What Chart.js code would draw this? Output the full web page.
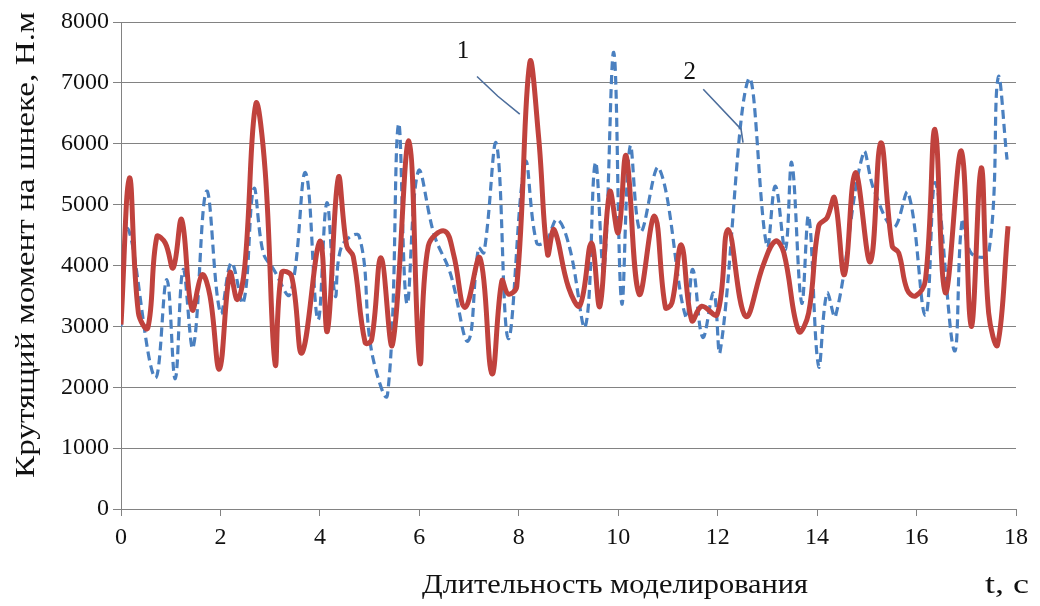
<!DOCTYPE html>
<html>
<head>
<meta charset="utf-8">
<script src="https://cdn.jsdelivr.net/npm/chart.js@4.4.1/dist/chart.umd.min.js"></script>
<style>
  html, body { margin: 0; padding: 0; background: #ffffff; }
  canvas { display: block; }
</style>
</head>
<body>
<canvas id="chart" width="1040" height="606"></canvas>
<script>
// Series 1 (solid red): time, s and torque, N·m
const timeSeries1 = [0,0.17,0.35,0.54,0.72,0.89,1.05,1.22,1.43,1.63,1.79,1.98,2.19,2.34,2.49,2.71,2.9,3.1,3.23,3.43,3.64,4.0,4.15,4.37,4.54,4.67,4.91,5.04,5.23,5.46,5.79,6.01,6.18,6.51,6.69,6.92,7.22,7.46,7.66,7.79,7.96,8.22,8.4,8.58,8.71,9.0,9.23,9.46,9.63,9.83,10.0,10.16,10.42,10.73,10.95,11.08,11.27,11.48,11.68,11.99,12.21,12.56,12.92,13.16,13.33,13.63,13.83,14.03,14.2,14.35,14.55,14.77,15.07,15.28,15.51,15.64,15.81,15.98,16.18,16.37,16.58,16.9,17.1,17.3,17.45,17.63,17.84];
const torqueSeries1 = [3030,5440,3220,2975,4470,4370,3960,4755,3275,3850,3500,2300,3880,3440,3990,6650,5550,2380,3880,3825,2565,4400,2920,5440,4320,4150,2730,2780,4125,2700,6045,2410,4320,4565,4180,3310,4125,2220,3750,3530,3660,7330,6100,4180,4590,3640,3340,4370,3330,5210,4540,5800,3530,4810,3310,3385,4335,3095,3330,3195,4590,3165,4015,4400,4210,2920,3220,4645,4785,5110,3850,5525,4060,6015,4320,4210,3605,3500,3770,6235,3550,5880,3000,5605,3220,2700,4645];

// Series 2 (dashed blue): time, s and torque, N·m
const timeSeries2 = [0,0.14,0.68,0.92,1.09,1.25,1.45,1.72,2.0,2.22,2.46,2.67,2.86,3.06,3.4,3.71,3.96,4.14,4.31,4.44,4.79,5.04,5.36,5.58,5.75,5.98,6.3,6.62,6.98,7.19,7.3,7.55,7.79,8.13,8.36,8.55,8.77,9.02,9.34,9.54,9.71,9.91,10.07,10.24,10.45,10.82,11.36,11.5,11.7,11.92,12.05,12.62,12.99,13.16,13.36,13.49,13.69,13.83,14.03,14.2,14.37,14.93,15.14,15.54,15.83,16.18,16.38,16.76,16.92,17.1,17.45,17.64,17.82];
const torqueSeries2 = [3000,4600,2160,3770,2140,3935,2650,5220,3220,4045,3385,5260,4210,3950,3530,5525,3110,5030,3500,4320,4480,2590,1880,6320,3370,5550,4500,3880,2760,4290,4210,6000,2800,5690,4370,4400,4755,4300,3000,5690,3920,7500,3380,5960,4560,5600,3150,3935,2820,3550,2590,7060,4320,5305,4260,5690,3385,4810,2345,3550,3165,5850,5250,4630,5195,3180,5360,2600,4750,4200,4200,7085,5740];

// Axis ranges and tick steps
const xRange = [0, 18];
const xStep = 2;
const yRange = [0, 8000];
const yStep = 1000;

// Axis titles
const yTitle = 'Крутящий момент на шнеке, Н.м';
const xTitle = 'Длительность моделирования';
const xUnit = 't, c';

// Curve labels with their leader lines, in data units (t, torque)
const curveLabels = ['1', '2'];
const curveLabelPos = [[6.88, 7520], [11.44, 7175]];
const leaderLines = [
  [[7.16, 7105], [7.58, 6780], [8.02, 6485]],
  [[11.71, 6895], [12.47, 6240], [12.51, 6020]]
];

const toPoints = (ts, vs) => ts.map((t, i) => ({ x: t, y: vs[i] }));

const AXIS_GREY = '#828282';
const SERIF = '"Liberation Serif", "Times New Roman", serif';

function fittedText(ctx, text, cx, cy, width, size, vertical) {
  ctx.save();
  ctx.translate(cx, cy);
  if (vertical) ctx.rotate(-Math.PI / 2);
  ctx.font = size + 'px ' + SERIF;
  const w = ctx.measureText(text).width;
  ctx.scale(width / w, 1);
  ctx.textAlign = 'center';
  ctx.textBaseline = 'middle';
  ctx.fillStyle = '#111111';
  ctx.fillText(text, 0, 0);
  ctx.restore();
}

const decorations = {
  id: 'decorations',
  afterDraw(chart) {
    const { ctx, scales: { x, y } } = chart;
    // axis titles
    fittedText(ctx, yTitle, 27, 245, 466, 28, true);
    fittedText(ctx, xTitle, 615, 586, 386, 28, false);
    fittedText(ctx, xUnit, 1007, 586, 44, 28, false);

    // curve numbers and leader lines
    ctx.save();
    ctx.strokeStyle = '#4d6e9c';
    ctx.lineWidth = 1.6;
    leaderLines.forEach(line => {
      ctx.beginPath();
      line.forEach(([t, v], i) => {
        const px = x.getPixelForValue(t), py = y.getPixelForValue(v);
        if (i === 0) ctx.moveTo(px, py); else ctx.lineTo(px, py);
      });
      ctx.stroke();
    });
    ctx.fillStyle = '#111111';
    ctx.font = '25px ' + SERIF;
    ctx.textAlign = 'center';
    ctx.textBaseline = 'middle';
    curveLabels.forEach((label, i) => {
      const [t, v] = curveLabelPos[i];
      ctx.fillText(label, x.getPixelForValue(t), y.getPixelForValue(v));
    });
    ctx.restore();
  }
};

new Chart(document.getElementById('chart'), {
  type: 'line',
  data: {
    datasets: [
      {
        label: '1',
        data: toPoints(timeSeries1, torqueSeries1),
        borderColor: '#c0423d',
        borderWidth: 5,
        tension: 0.4,
        pointRadius: 0,
        fill: false,
        order: 0
      },
      {
        label: '2',
        data: toPoints(timeSeries2, torqueSeries2),
        borderColor: '#4a80c0',
        borderWidth: 3.2,
        borderDash: [9, 5],
        tension: 0.4,
        pointRadius: 0,
        fill: false,
        order: 1
      }
    ]
  },
  options: {
    responsive: false,
    animation: false,
    devicePixelRatio: 1,
    layout: { padding: { left: 0, right: 24, top: 22, bottom: 0 } },
    plugins: { legend: { display: false }, tooltip: { enabled: false } },
    scales: {
      x: {
        type: 'linear',
        min: xRange[0],
        max: xRange[1],
        afterFit(scale) { scale.height = 97; },
        ticks: {
          stepSize: xStep,
          padding: 7,
          color: '#111111',
          font: { family: SERIF, size: 24 },
          maxRotation: 0,
          callback: v => String(v)
        },
        grid: { drawOnChartArea: false, drawTicks: true, tickLength: 7, color: AXIS_GREY },
        border: { color: AXIS_GREY, width: 1 }
      },
      y: {
        min: yRange[0],
        max: yRange[1],
        afterFit(scale) { scale.width = 121; },
        ticks: {
          stepSize: yStep,
          padding: 4,
          color: '#111111',
          font: { family: SERIF, size: 24 },
          callback: v => String(v)
        },
        grid: { color: AXIS_GREY, lineWidth: 1, tickLength: 8 },
        border: { color: AXIS_GREY, width: 1 }
      }
    }
  },
  plugins: [decorations]
});
</script>
</body>
</html>
